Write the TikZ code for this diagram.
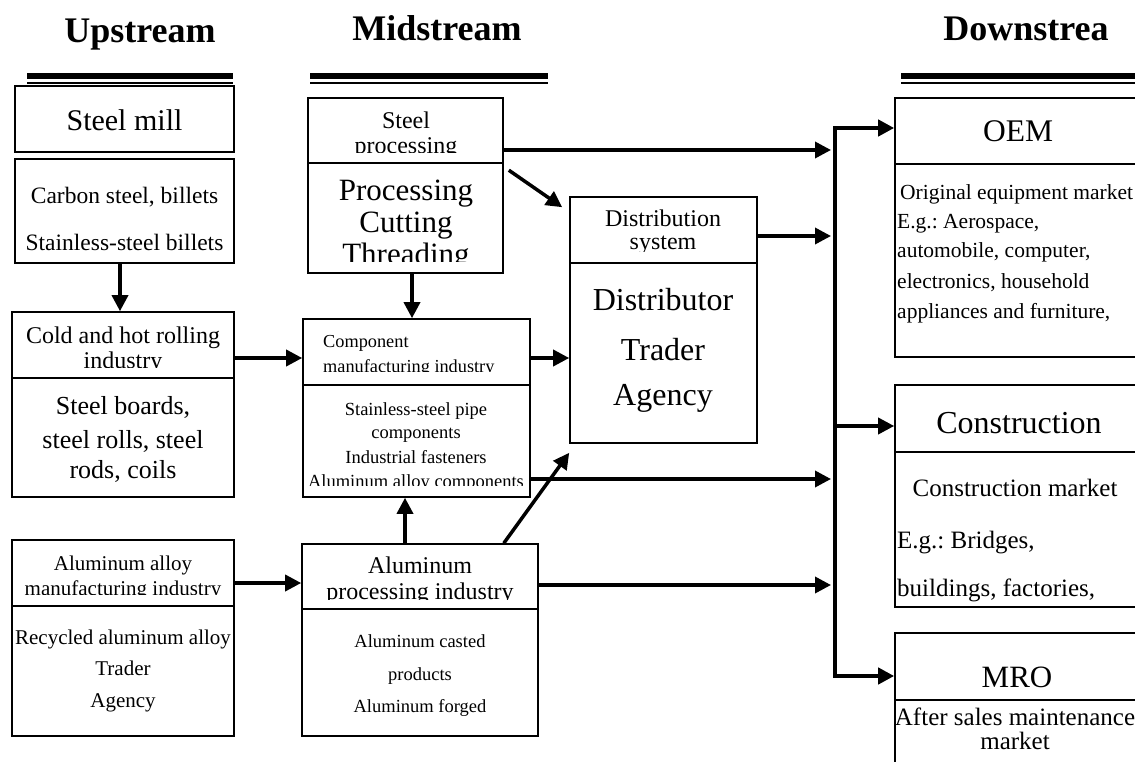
\documentclass[tikz,border=0pt]{standalone}
\usepackage{fontspec}
\setmainfont{Liberation Serif}
\usetikzlibrary{arrows.meta,fit}
\frenchspacing
\tikzset{
 part/.style={draw, line width=1.6pt, inner sep=0pt},
 tx/.style={font=\fontsize{#1}{#1}\selectfont, anchor=base, inner sep=0pt},
 txl/.style={font=\fontsize{#1}{#1}\selectfont, anchor=base west, inner sep=0pt},
 hd/.style={font=\bfseries\fontsize{36}{36}\selectfont, anchor=base, inner sep=0pt},
 arr/.style={line width=3.5pt, -{Triangle[length=16pt,width=16pt]}},
 busline/.style={line width=4pt, {Triangle[length=16pt,width=16pt]}-{Triangle[length=16pt,width=16pt]}},
 thickrule/.style={line width=6pt},
 thinrule/.style={line width=2pt}}
\begin{document}
\begin{tikzpicture}[x=1pt,y=-1pt]
\useasboundingbox (0,0) rectangle (1135,762);
\clip (0,0) rectangle (1135,762);

% headings
\node[hd] (hup) at (140,43) {Upstream};
\node[hd] (hmid) at (437,41) {Midstream};
\node[hd] (hdown) at (1026,41) {Downstrea};
\draw[thickrule] (27,76) -- (233,76);
\draw[thinrule] (27,83.5) -- (233,83.5);
\draw[thickrule] (310,76) -- (548,76);
\draw[thinrule] (310,83.5) -- (548,83.5);
\draw[thickrule] (901,76) -- (1135,76);
\draw[thinrule] (901,83.5) -- (1135,83.5);

% boxes
\node[part, fit={(15,86) (234,152)}] (sm) {};
\node[part, fit={(15,159) (234,263)}] (cs) {};
\node[part, fit={(12,312) (234,378)}] (crT) {};
\node[part, fit={(12,378) (234,497)}] (crB) {};
\node[part, fit={(12,540) (234,606)}] (aaT) {};
\node[part, fit={(12,606) (234,736)}] (aaB) {};
\node[part, fit={(308,98) (503,163)}] (spT) {};
\node[part, fit={(308,163) (503,273)}] (spB) {};
\node[part, fit={(303,319) (530,385)}] (compT) {};
\node[part, fit={(303,385) (530,497)}] (compB) {};
\node[part, fit={(302,544) (538,609)}] (alpT) {};
\node[part, fit={(302,609) (538,736)}] (alpB) {};
\node[part, fit={(570,197) (757,263)}] (distT) {};
\node[part, fit={(570,263) (757,443)}] (distB) {};
\node[part, fit={(895,98) (1140,164)}] (oemT) {};
\node[part, fit={(895,164) (1140,357)}] (oemB) {};
\node[part, fit={(895,385) (1140,452)}] (conT) {};
\node[part, fit={(895,452) (1140,607)}] (conB) {};
\node[part, fit={(895,633) (1140,700)}] (mroT) {};
\node[part, fit={(895,700) (1140,790)}] (mroB) {};

% upstream texts
\node[tx=30] (t1) at (124.5,131) {Steel mill};
\node[tx=23.5] (t2) at (124.5,204) {Carbon steel, billets};
\node[tx=23.5] (t3) at (124.5,251) {Stainless-steel billets};
\begin{scope}
\clip (12,312) rectangle (234,367);
\node[tx=24] (t4) at (123,343) {Cold and hot rolling};
\node[tx=24] (t5) at (123,368) {industry};
\end{scope}
\node[tx=26] (t6) at (123,414) {Steel boards,};
\node[tx=26] (t7) at (123,448) {steel rolls, steel};
\node[tx=26] (t8) at (123,478) {rods, coils};
\begin{scope}
\clip (12,540) rectangle (234,594);
\node[tx=21] (t9) at (123,570) {Aluminum alloy};
\node[tx=21] (t10) at (123,595) {manufacturing industry};
\end{scope}
\node[tx=21] (t11) at (123,644) {Recycled aluminum alloy};
\node[tx=21] (t12) at (123,675) {Trader};
\node[tx=21] (t13) at (123,707) {Agency};

% midstream texts
\begin{scope}
\clip (308,98) rectangle (503,153);
\node[tx=24] (t14) at (406,129) {Steel};
\node[tx=24] (t15) at (406,154) {processing};
\end{scope}
\begin{scope}
\clip (308,163) rectangle (503,261);
\node[tx=31] (t16) at (406,201) {Processing};
\node[tx=31] (t17) at (406,233) {Cutting};
\node[tx=31] (t18) at (406,265) {Threading};
\end{scope}
\begin{scope}
\clip (303,319) rectangle (530,371);
\node[txl=18.3] (t19) at (323,347) {Component};
\node[txl=18.3] (t20) at (323,372) {manufacturing industry};
\end{scope}
\begin{scope}
\clip (303,385) rectangle (530,485);
\node[tx=18.5] (t21) at (416,415) {Stainless-steel pipe};
\node[tx=18.5] (t22) at (416,438) {components};
\node[tx=18.5] (t23) at (416,463) {Industrial fasteners};
\node[tx=18.5] (t24) at (416,487) {Aluminum alloy components};
\end{scope}
\begin{scope}
\clip (302,544) rectangle (538,599);
\node[tx=24] (t25) at (420,573) {Aluminum};
\node[tx=24] (t26) at (420,599) {processing industry};
\end{scope}
\node[tx=18.5] (t27) at (420,647) {Aluminum casted};
\node[tx=18.5] (t28) at (420,680) {products};
\node[tx=18.5] (t29) at (420,712) {Aluminum forged};
\begin{scope}
\clip (570,197) rectangle (757,251);
\node[tx=24] (t30) at (663,226) {Distribution};
\node[tx=24] (t31) at (663,249) {system};
\end{scope}
\node[tx=32] (t32) at (663,310) {Distributor};
\node[tx=32] (t33) at (663,360) {Trader};
\node[tx=32] (t34) at (663,405) {Agency};

% downstream texts
\node[tx=31.5] (t35) at (1018,142) {OEM};
\node[txl=21.5] (t36) at (900,200) {Original equipment market};
\node[txl=21.5] (t37) at (897,229) {E.g.: Aerospace,};
\node[txl=21.5] (t38) at (897,258) {automobile, computer,};
\node[txl=21.5] (t39) at (897,288) {electronics, household};
\node[txl=21.5] (t40) at (897,318) {appliances and furniture,};
\node[tx=32] (t41) at (1019,433) {Construction};
\node[tx=25] (t42) at (1015,496) {Construction market};
\node[txl=25] (t43) at (897,548) {E.g.: Bridges,};
\node[txl=25] (t44) at (897,596) {buildings, factories,};
\node[tx=31] (t45) at (1017,687) {MRO};
\node[tx=25] (t46) at (1015,725) {After sales maintenance};
\node[tx=25] (t47) at (1015,749) {market};

% helper coordinates
\coordinate (x120) at (120,0);
\coordinate (x412) at (412,0);
\coordinate (x405) at (405,0);
\coordinate (busin) at (831,0);
\coordinate (y150) at (0,150);
\coordinate (y236) at (0,236);
\coordinate (y358) at (0,358);
\coordinate (y426) at (0,426);
\coordinate (y479) at (0,479);
\coordinate (y583) at (0,583);
\coordinate (y585) at (0,585);
\coordinate (busTop) at (835,128);
\coordinate (busBot) at (835,676);

% connectors
\draw[arr] (x120 |- cs.south) -- (x120 |- crT.north);
\draw[arr] (crT.east |- y358) -- (compT.west |- y358);
\draw[arr] (x412 |- spB.south) -- (x412 |- compT.north);
\draw[arr] (compT.east |- y358) -- (distB.west |- y358);
\draw[arr] (x405 |- alpT.north) -- (x405 |- compB.south);
\draw[arr] (aaT.east |- y583) -- (alpT.west |- y583);
\draw[arr] ([shift={(5,8)}]spB.north east) -- ([shift={(-7,11)}]distT.north west);
\draw[arr] ([shift={(-35,0)}]alpT.north east) -- ([shift={(0,9)}]distB.south west);
\draw[arr] (spT.east |- y150) -- (busin |- y150);
\draw[arr] (distT.east |- y236) -- (busin |- y236);
\draw[arr] (compB.east |- y479) -- (busin |- y479);
\draw[arr] (alpT.east |- y585) -- (busin |- y585);
\draw[busline] (oemT.west |- busTop) -- (busTop) -- (busBot) -- (mroT.west |- busBot);
\draw[arr] (busTop |- y426) -- (conT.west |- y426);
\end{tikzpicture}
\end{document}
